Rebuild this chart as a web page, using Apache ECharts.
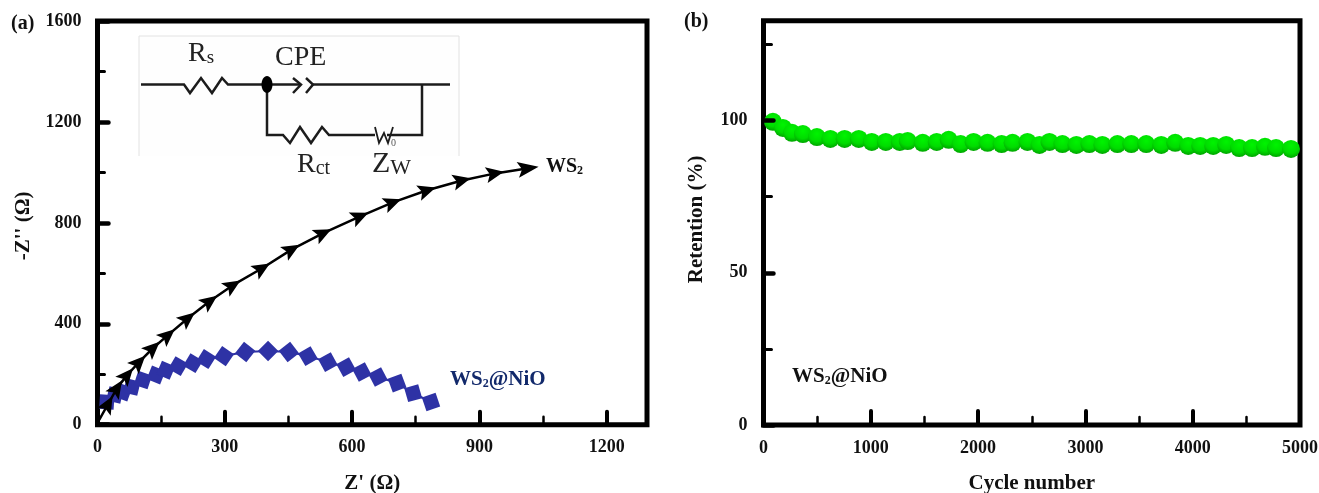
<!DOCTYPE html>
<html><head><meta charset="utf-8">
<script src="https://cdn.jsdelivr.net/npm/echarts@6/dist/echarts.min.js"></script>
<style>html,body{margin:0;padding:0;background:#fff}#c{width:1319px;height:493px}</style>
</head><body><div id="c"></div>
<script>
const ws2X = [4,25,46,70,98,131,166,213,265,319,388,458,532,619,696,777,859,937,1015];
const ws2Y = [19,82,145,197,248,304,355,422,490,553,620,695,759,826,881,929,968,996,1016];
const nioX = [22,41,60,81,107,138,161,190,225,256,298,348,402,451,496,543,586,623,661,706,744,786];
const nioY = [90,118,129,149,177,197,216,232,244,260,272,288,292,288,272,248,228,209,189,165,125,90];
const cycleX = [88,181,265,367,498,623,756,888,1009,1140,1270,1344,1484,1614,1726,1837,1958,2088,2219,2321,2460,2572,2665,2786,2916,3037,3158,3298,3428,3567,3707,3837,3958,4070,4191,4312,4433,4553,4674,4777,4916];
const retention = [99.6,97.6,96,95.6,94.6,94,94,94,93,93,93,93.3,92.7,93,93.7,92.3,93,92.7,92.3,92.7,93,92,93,92.3,92,92.3,92,92.3,92.3,92.3,92,92.7,91.7,91.7,91.7,92,91,91,91.4,91,90.7];
const aXMajor = [0,300,600,900,1200], aXMinor = [150,450,750,1050];
const aYMajor = [0,400,800,1200,1600], aYMinor = [200,600,1000,1400];
const bXMajor = [0,1000,2000,3000,4000,5000], bXMinor = [500,1500,2500,3500,4500];
const bYMajor = [0,50,100], bYMinor = [25,75,125];

const serif = '"Liberation Serif","Times New Roman",serif';
const labelStyle = {fontFamily:serif,fontWeight:'bold',fontSize:18,color:'#111',formatter:v=>String(v)};
const nameStyle = {fontFamily:serif,fontWeight:'bold',fontSize:21,color:'#111'};
const gridA = {left:97.5,top:21,width:549.5,height:403.7,outerBoundsMode:'none'};
const gridB = {left:763.5,top:20.8,width:536.5,height:404.2,outerBoundsMode:'none'};
const aXMax = 1295, aYMax = 1600, bXMax = 5000, bYMax = 132.8;
const ax = gridA.width/aXMax, ay = gridA.height/aYMax;

function axis(extra, max, major, minor, isMinor, len, minLen, wid, minWid, lblMargin, pad){
  const base = {type:'value',min:0,max:max,z:5,splitLine:{show:false},axisLine:{show:false}};
  if(isMinor) return Object.assign(base,extra,{axisLabel:{show:false},
    axisTick:{show:true,inside:true,length:minLen,customValues:minor,lineStyle:{color:'#000',width:minWid,cap:'round'}}});
  return Object.assign(base,extra,{
    axisLabel:Object.assign({customValues:major,margin:lblMargin},labelStyle),
    axisTick:{show:true,inside:true,length:len,customValues:major,lineStyle:{color:'#000',width:wid,cap:'round'}},
    nameLocation:'middle',nameTextStyle:Object.assign({},nameStyle,pad?{padding:pad}:{})});
}
function angle(xs,ys,i){
  const a=Math.max(i-1,0), b=Math.min(i+1,xs.length-1);
  return Math.atan2((ys[b]-ys[a])*ay,(xs[b]-xs[a])*ax)*180/Math.PI;
}
const arrow='path://M0,-10 L7,7 L0,3.5 L-7,7 Z';
const T=(x,y,text,font,fill)=>({type:'text',z:10,style:{x,y,text,font,fill:fill||'#111',align:'left',verticalAlign:'middle'}});
const bold=s=>'bold '+s+'px '+serif, reg=s=>s+'px '+serif;
const P=(pts,w,c)=>({type:'polyline',z:9,shape:{points:pts},style:{stroke:c||'#1c1c1c',lineWidth:w||2.5,fill:null,lineJoin:'miter'}});
const sub=(x,y,main,small,msz,ssz,sLH)=>({type:'text',z:10,x:x,y:y,style:{
  text:'{m|'+main+'}{s|'+small+'}',fill:'#222',verticalAlign:'bottom',
  rich:{m:{font:reg(msz),fill:'#222',lineHeight:28,verticalAlign:'bottom'},s:{font:reg(ssz),fill:'#222',lineHeight:sLH,verticalAlign:'bottom'}}}});
const wsNio=(x,y,fill)=>({type:'text',z:10,x:x,y:y,style:{text:'{m|WS}{s|2}{m|@NiO}',verticalAlign:'middle',
  rich:{m:{font:bold(21),fill:fill,lineHeight:22,verticalAlign:'bottom'},s:{font:bold(12),fill:fill,lineHeight:17,verticalAlign:'bottom'}}}});

const option={
 animation:false,backgroundColor:'#fff',
 grid:[Object.assign({show:true,borderColor:'#000',borderWidth:5,backgroundColor:'transparent'},gridA),
       Object.assign({show:true,borderColor:'#000',borderWidth:5,backgroundColor:'transparent'},gridB)],
 xAxis:[
  axis({gridIndex:0,position:'bottom',name:"Z' (Ω)",nameGap:48},aXMax,aXMajor,aXMinor,false,13,0,4,0,14),
  axis({gridIndex:0,position:'bottom'},aXMax,aXMajor,aXMinor,true,0,8,0,2.5,0),
  axis({gridIndex:1,position:'bottom',name:'Cycle number',nameGap:48},bXMax,bXMajor,bXMinor,false,14,0,4,0,14),
  axis({gridIndex:1,position:'bottom'},bXMax,bXMajor,bXMinor,true,0,8,0,2.5,0)
 ],
 yAxis:[
  axis({gridIndex:0,position:'left',name:"-Z'' (Ω)",nameGap:63},aYMax,aYMajor,aYMinor,false,11,0,4.5,0,16,[0,6,0,0]),
  axis({gridIndex:0,position:'left'},aYMax,aYMajor,aYMinor,true,0,7,0,3,0),
  axis({gridIndex:1,position:'left',name:'Retention (%)',nameGap:56},bYMax,bYMajor,bYMinor,false,10,0,4.5,0,16,[0,0,0,7]),
  axis({gridIndex:1,position:'left'},bYMax,bYMajor,bYMinor,true,0,8,0,3,0)
 ],
 series:[
  {type:'line',name:'WS2@NiO',xAxisIndex:0,yAxisIndex:0,z:2,data:nioX.map((x,i)=>[x,nioY[i]]),
   symbol:'rect',symbolSize:14.5,symbolRotate:(v,p)=>45+angle(nioX,nioY,p.dataIndex),
   lineStyle:{color:'#2E32A5',width:2},itemStyle:{color:'#2E32A5'}},
  {type:'line',name:'WS2',xAxisIndex:0,yAxisIndex:0,z:3,data:ws2X.map((x,i)=>[x,ws2Y[i]]),
   symbol:(v,p)=>p.dataIndex===0?'none':arrow,
   symbolSize:(v,p)=>p.dataIndex===ws2X.length-1?[16,21]:[16,18],
   symbolRotate:(v,p)=>angle(ws2X,ws2Y,p.dataIndex)-90,
   lineStyle:{color:'#000',width:2.5},itemStyle:{color:'#000'}},
  {type:'line',name:'Retention',xAxisIndex:2,yAxisIndex:2,z:2,data:cycleX.map((x,i)=>[x,retention[i]]),
   symbol:'circle',symbolSize:18,lineStyle:{width:0},
   itemStyle:{color:{type:'radial',x:0.5,y:0.32,r:0.78,colorStops:[{offset:0,color:'#00f400'},{offset:0.55,color:'#00dc00'},{offset:0.85,color:'#00a800'},{offset:1,color:'#008c00'}]}}}
 ],
 graphic:[
  {type:'rect',z:8,shape:{x:139,y:36,width:320,height:120},style:{fill:'#fefefe'}},
  P([[139,156],[139,36],[459,36],[459,156]],1,'#e2e2e2'),
  P([[141,84.5],[184,84.5],[190,93],[201,78],[212,93],[222,78],[228,84.5],[301,84.5]]),
  P([[293,78],[301,84.5],[293,93]]),
  P([[306,78],[313,84.5],[306,93]]),
  P([[313,84.5],[450,84.5]]),
  P([[422,84.5],[422,135],[387,135]]),
  P([[267,84.5],[267,135],[283,135],[290,143],[300,127],[311,143],[322,127],[329,135],[375,135]]),
  P([[375,127],[379,143],[384,133],[388,143],[393,127]],1.8),
  {type:'ellipse',z:9,shape:{cx:267,cy:84.5,rx:5.5,ry:8.5},style:{fill:'#000'}},
  T(391,143,'0',reg(10),'#555'),
  sub(188,68,'R','s',28,19,10),
  T(275,58,'CPE',reg(28),'#222'),
  sub(297,179,'R','ct',28,20,12),
  sub(372,179,'Z','W',30,22,6),
  T(11,24,'(a)',bold(20),'#111'),
  T(684,22,'(b)',bold(20),'#111'),
  {type:'text',z:10,x:546,y:166,style:{text:'{m|WS}{s|2}',verticalAlign:'middle',
    rich:{m:{font:bold(20),fill:'#111',lineHeight:22,verticalAlign:'bottom'},s:{font:bold(12),fill:'#111',lineHeight:17,verticalAlign:'bottom'}}}},
  wsNio(450,379,'#12296B'),
  wsNio(792,376,'#111')
 ]
};
echarts.init(document.getElementById('c'),null,{renderer:'canvas'}).setOption(option);
</script></body></html>
